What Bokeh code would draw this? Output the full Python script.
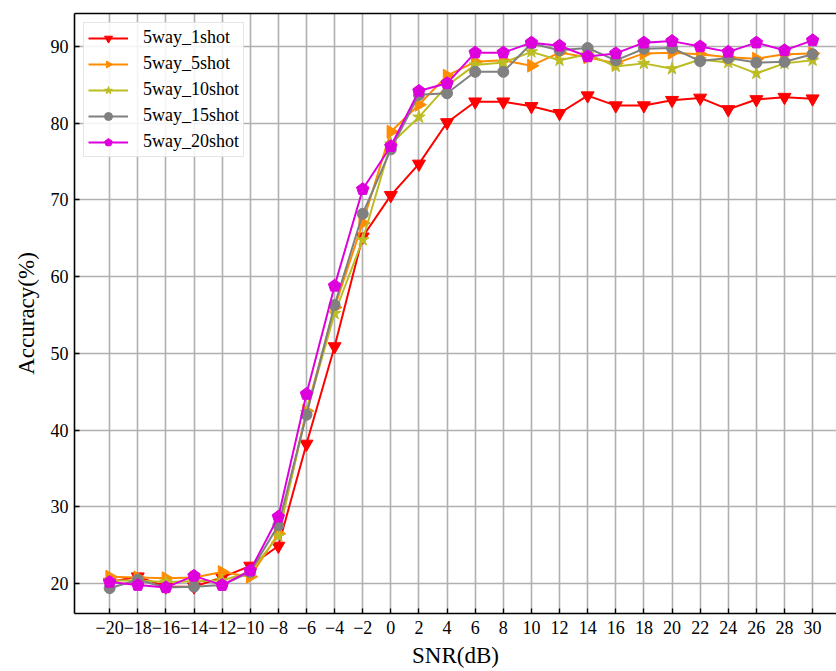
import math
from bokeh.plotting import figure
from bokeh.models import Range1d, FixedTicker, LinearAxis, Legend, LegendItem
from bokeh.embed import file_html
from bokeh.resources import INLINE

snr = [-20, -18, -16, -14, -12, -10, -8, -6, -4, -2, 0, 2, 4, 6, 8, 10, 12, 14, 16, 18, 20, 22, 24, 26, 28, 30]

acc_1shot = [20.2, 20.9, 19.6, 19.6, 20.8, 22.3, 24.9, 38.2, 50.9, 65.2, 70.6, 74.7, 80.1, 82.8, 82.8, 82.2,
             81.3, 83.6, 82.3, 82.3, 83.0, 83.3, 81.8, 83.1, 83.4, 83.2]
acc_5shot = [20.9, 20.8, 20.7, 20.8, 21.5, 20.9, 26.5, 42.5, 56.0, 67.0, 78.9, 82.4, 86.2, 88.0, 88.2, 87.5,
             89.2, 88.6, 87.8, 89.1, 89.2, 89.0, 88.6, 88.4, 89.0, 89.1]
acc_10shot = [20.4, 20.4, 20.2, 20.3, 20.4, 21.5, 26.2, 42.3, 55.2, 64.8, 77.3, 80.8, 84.9, 87.6, 87.9, 89.3,
              88.2, 89.0, 87.4, 87.8, 87.1, 88.3, 87.9, 86.5, 87.8, 88.2]
acc_15shot = [19.4, 20.5, 19.5, 19.6, 19.8, 21.5, 27.6, 42.0, 56.3, 68.2, 76.6, 83.7, 83.9, 86.7, 86.7, 90.4,
              89.5, 89.8, 88.2, 89.7, 89.8, 88.1, 88.5, 87.9, 88.0, 89.0]
acc_20shot = [20.2, 19.8, 19.5, 21.0, 19.8, 21.7, 28.7, 44.7, 58.8, 71.4, 77.0, 84.2, 85.2, 89.2, 89.2, 90.5,
              90.1, 88.7, 89.1, 90.5, 90.7, 90.0, 89.3, 90.5, 89.5, 90.8]

series_names = ["5way_1shot", "5way_5shot", "5way_10shot", "5way_15shot", "5way_20shot"]
x_ticks = snr
y_ticks = [20, 30, 40, 50, 60, 70, 80, 90]

FONT = "Liberation Serif"

p = figure(width=836, height=671, output_backend="svg", toolbar_location=None,
           x_range=Range1d(-22.5, 31.7), y_range=Range1d(16.1, 94.3),
           min_border_left=74, min_border_right=0, min_border_top=13, min_border_bottom=58,
           background_fill_color="white", border_fill_color="white")
p.outline_line_color = None

for ax in (p.xaxis[0], p.yaxis[0]):
    ax.axis_line_color = "black"
    ax.axis_line_width = 1.6
    ax.major_tick_in = 5
    ax.major_tick_out = 0
    ax.major_tick_line_color = "black"
    ax.major_tick_line_width = 1.3
    ax.minor_tick_line_color = None
    ax.major_label_text_font = FONT
    ax.major_label_text_font_size = "18px"
    ax.major_label_text_color = "black"
    ax.axis_label_text_font = FONT
    ax.axis_label_text_font_style = "normal"
    ax.axis_label_text_font_size = "23px"
    ax.axis_label_text_color = "black"

p.xaxis[0].ticker = FixedTicker(ticks=x_ticks)
p.xaxis[0].major_label_overrides = {t: (("\u2212" + str(-t)) if t < 0 else str(t)) for t in x_ticks}
p.xaxis[0].major_label_standoff = 7
p.xaxis[0].axis_label = "SNR(dB)"
p.xaxis[0].axis_label_standoff = 6

p.yaxis[0].ticker = FixedTicker(ticks=y_ticks)
p.yaxis[0].major_label_standoff = 6
p.yaxis[0].axis_label = "Accuracy(%)"
p.yaxis[0].axis_label_standoff = 9

top_axis = LinearAxis(ticker=FixedTicker(ticks=[]), axis_line_color="black", axis_line_width=1.6,
                      major_tick_line_color=None, minor_tick_line_color=None,
                      major_label_text_font_size="0px", major_label_standoff=0)
p.add_layout(top_axis, "above")

p.xgrid.ticker = FixedTicker(ticks=x_ticks)
p.ygrid.ticker = FixedTicker(ticks=y_ticks)
p.grid.grid_line_color = "#b0b0b0"
p.grid.grid_line_width = 1.6

items = []
lw = 2

r1 = p.line(snr, acc_1shot, line_color="#ff0000", line_width=lw)
m1 = p.scatter(snr, acc_1shot, marker="inverted_triangle", size=13, fill_color="#ff0000", line_color="#ff0000")
items.append(LegendItem(label=series_names[0], renderers=[r1, m1]))

r2 = p.line(snr, acc_5shot, line_color="#ff8c00", line_width=lw)
m2 = p.ngon(snr, acc_5shot, radius=7.5, radius_units="screen", n=3, angle=-math.pi / 2,
            fill_color="#ff8c00", line_color="#ff8c00")
items.append(LegendItem(label=series_names[1], renderers=[r2, m2]))

r3 = p.line(snr, acc_10shot, line_color="#bcbd22", line_width=lw)
m3 = p.scatter(snr, acc_10shot, marker="star", size=13, fill_color="#bcbd22", line_color="#bcbd22")
items.append(LegendItem(label=series_names[2], renderers=[r3, m3]))

r4 = p.line(snr, acc_15shot, line_color="#808080", line_width=lw)
m4 = p.scatter(snr, acc_15shot, marker="circle", size=11, fill_color="#808080", line_color="#808080")
items.append(LegendItem(label=series_names[3], renderers=[r4, m4]))

r5 = p.line(snr, acc_20shot, line_color="#dd00dd", line_width=lw)
m5 = p.ngon(snr, acc_20shot, radius=6.5, radius_units="screen", n=5, angle=0,
            fill_color="#dd00dd", line_color="#dd00dd")
items.append(LegendItem(label=series_names[4], renderers=[r5, m5]))

legend = Legend(items=items, location="top_left", margin=9, padding=4, spacing=5,
                glyph_width=40, glyph_height=20, label_height=20, label_standoff=15,
                label_text_font=FONT, label_text_font_size="18px", label_text_color="black",
                border_line_color="#cccccc", border_line_width=1.2,
                background_fill_color="white", background_fill_alpha=0.85)
p.add_layout(legend, "center")

open("out.html", "w").write(file_html(p, INLINE))
